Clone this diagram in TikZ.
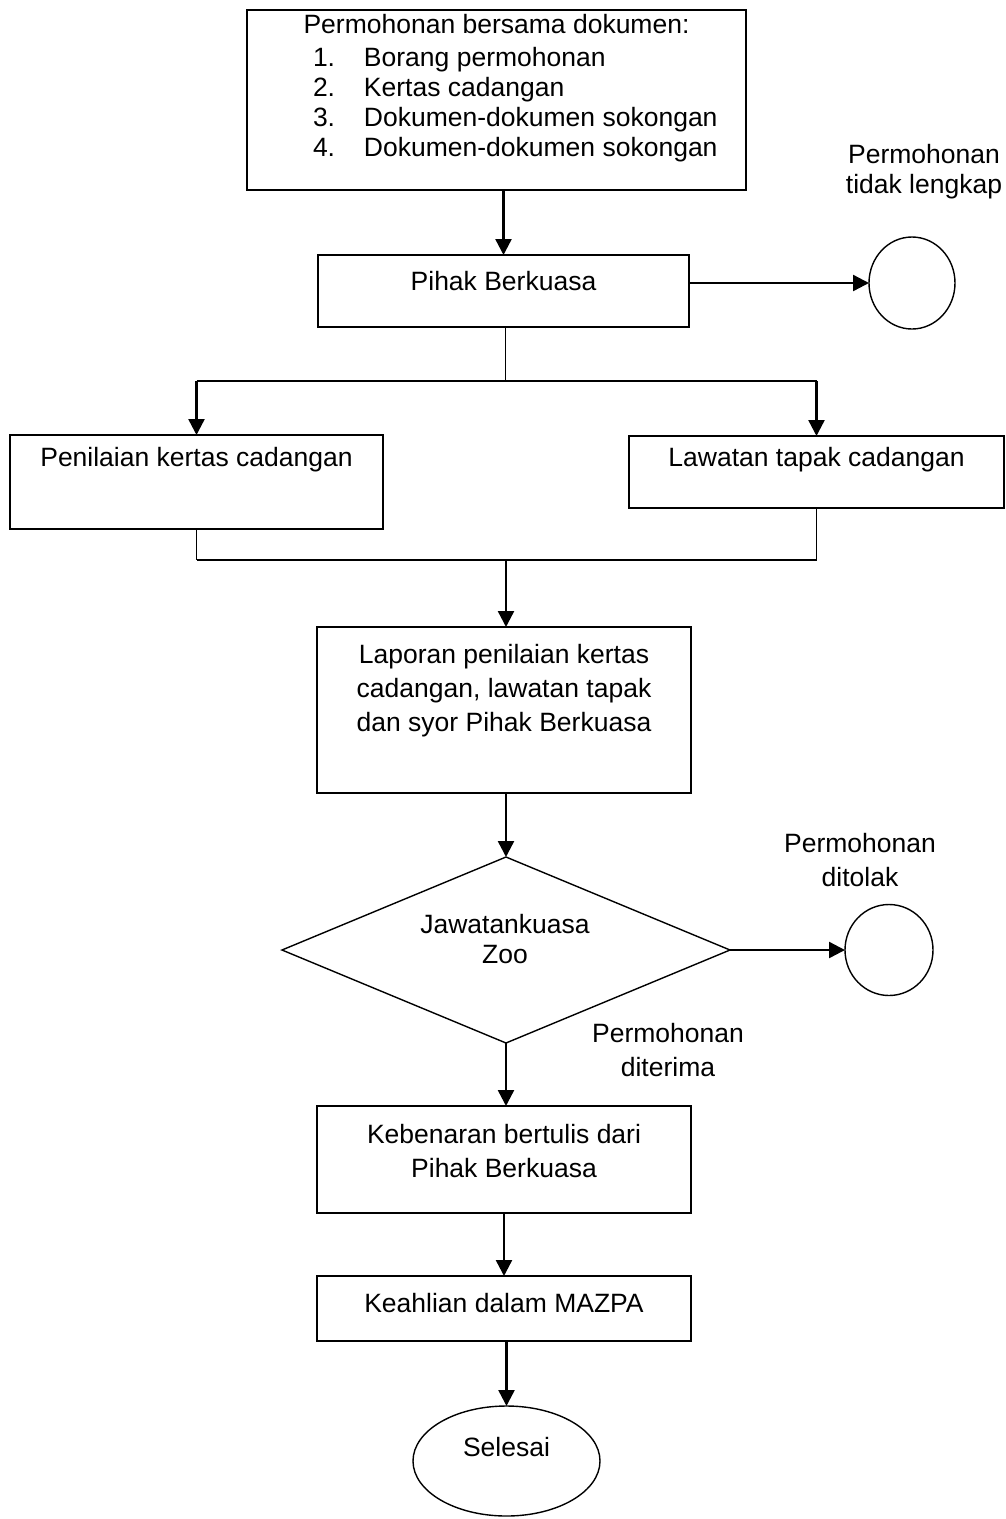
\documentclass[tikz,border=0pt]{standalone}
\usepackage{fontspec}
\setmainfont{Liberation Sans}
\usetikzlibrary{arrows.meta,shapes.geometric}
\begin{document}
\begin{tikzpicture}[x=1pt,y=-1pt,
  every node/.style={inner sep=0pt, outer sep=0pt},
  txt/.style={font=\fontsize{26.5}{30}\selectfont, align=center},
  txtw/.style={font=\fontsize{26.5}{34}\selectfont, align=center},
  procbox/.style={draw, line width=1.6pt, rectangle},
  endcirc/.style={draw, line width=1.4pt, ellipse},
  arr/.style={line width=2.4pt, -{Triangle[length=16pt,width=16pt]}},
  thinline/.style={line width=1pt},
  thickline/.style={line width=2pt}
]
\useasboundingbox (0,0) rectangle (1006,1519);

% boxes
\node[procbox, minimum width=499pt, minimum height=180pt] (top) at (496.5,100) {};
\node[txt, anchor=base] (toptitle) at (496.5,33) {Permohonan bersama dokumen:};
\node[txt, anchor=north west, align=left] (toplist) at (313,47)
  {\makebox[51pt][l]{1.}Borang permohonan\\
   \makebox[51pt][l]{2.}Kertas cadangan\\
   \makebox[51pt][l]{3.}Dokumen-dokumen sokongan\\
   \makebox[51pt][l]{4.}Dokumen-dokumen sokongan};

\node[procbox, minimum width=371pt, minimum height=72pt] (pihak) at (503.5,291) {};
\node[txt, anchor=base] (pihaktxt) at (503.5,290) {Pihak Berkuasa};

\node[endcirc, minimum width=86pt, minimum height=92pt] (c1) at (912,283) {};
\node[txt, anchor=north] (c1lab) at (924,144) {Permohonan\\tidak lengkap};

\node[procbox, minimum width=373pt, minimum height=94pt] (pen) at (196.5,482) {};
\node[txt, anchor=base] (pentxt) at (196.5,466) {Penilaian kertas cadangan};

\node[procbox, minimum width=375pt, minimum height=72pt] (law) at (816.5,472) {};
\node[txt, anchor=base] (lawtxt) at (816.5,466) {Lawatan tapak cadangan};

\node[procbox, minimum width=374pt, minimum height=166pt] (lap) at (504,710) {};
\node[txtw, anchor=north] (laptxt) at (504,644)
  {Laporan penilaian kertas\\cadangan, lawatan tapak\\dan syor Pihak Berkuasa};

\node[draw, line width=1.4pt, diamond, minimum width=448pt, minimum height=186pt] (dia) at (506,950) {};
\node[txt, anchor=north] (diatxt) at (505,914) {Jawatankuasa\\Zoo};

\node[endcirc, minimum width=88pt, minimum height=91pt] (c2) at (889,950) {};
\node[txtw, anchor=north] (c2lab) at (860,833) {Permohonan\\ditolak};
\node[txtw, anchor=north] (acclab) at (668,1023) {Permohonan\\diterima};

\node[procbox, minimum width=374pt, minimum height=107pt] (keb) at (504,1159.5) {};
\node[txtw, anchor=north] (kebtxt) at (504,1124) {Kebenaran bertulis dari\\Pihak Berkuasa};

\node[procbox, minimum width=374pt, minimum height=65pt] (maz) at (504,1308.5) {};
\node[txt, anchor=base] (maztxt) at (504,1312) {Keahlian dalam MAZPA};

\node[endcirc, minimum width=187pt, minimum height=110pt] (sel) at (506.5,1461) {};
\node[txt, anchor=base] (seltxt) at (506.5,1456) {Selesai};

% junctions
\coordinate (j1) at (505,381);
\coordinate (j2) at (506,560);

% connectors
\draw[arr] (pihak.north |- top.south) -- (pihak.north);
\draw[arr] (pihak.east |- c1.west) -- (c1.west);
\draw[thinline] (pihak.south -| j1) -- (j1);
\draw[thickline] (pen.north |- j1) -- (law.north |- j1);
\draw[arr] (pen.north |- j1) -- (pen.north);
\draw[arr] (law.north |- j1) -- (law.north);
\draw[thinline] (pen.south) -- (pen.south |- j2);
\draw[thinline] (law.south) -- (law.south |- j2);
\draw[thickline] (pen.south |- j2) -- (law.south |- j2);
\draw[arr] (j2) -- (j2 |- lap.north);
\draw[arr] (dia.north |- lap.south) -- (dia.north);
\draw[arr] (dia.east) -- (c2.west);
\draw[arr] (dia.south) -- (dia.south |- keb.north);
\draw[arr] (keb.south) -- (maz.north);
\draw[arr] (sel.north |- maz.south) -- (sel.north);
\end{tikzpicture}
\end{document}
